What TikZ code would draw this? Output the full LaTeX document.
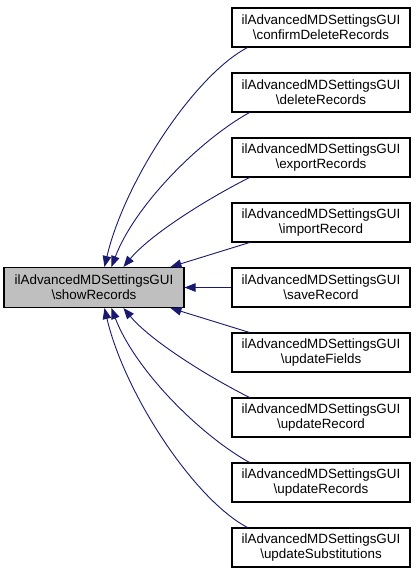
\documentclass[tikz,border=0pt]{standalone}
\usepackage{fontspec}
\setmainfont{Liberation Sans}
\usetikzlibrary{arrows.meta}
\definecolor{edgeblue}{HTML}{191970}
\definecolor{nodegray}{HTML}{BFBFBF}
\tikzset{
  fn/.style={draw=black, line width=1.1pt, fill=white, minimum width=178pt, minimum height=39pt,
    inner sep=0pt, align=center, font=\fontsize{13.4pt}{15pt}\selectfont},
  fnmain/.style={fn, fill=nodegray, minimum width=180pt, minimum height=40pt},
  edge/.style={draw=edgeblue, line width=0.9pt, -{Triangle[length=11pt,width=8.5pt]}}
}
\begin{document}
\begin{tikzpicture}[x=1pt,y=-1pt]
\useasboundingbox (0,0) rectangle (416,575);
\node[fnmain] (l) at (94,287.5) {ilAdvancedMDSettingsGUI\\\textbackslash showRecords};
\node[fn] (r1) at (321,27.5) {ilAdvancedMDSettingsGUI\\\textbackslash confirmDeleteRecords};
\node[fn] (r2) at (321,92.5) {ilAdvancedMDSettingsGUI\\\textbackslash deleteRecords};
\node[fn] (r3) at (321,157.5) {ilAdvancedMDSettingsGUI\\\textbackslash exportRecords};
\node[fn] (r4) at (321,222.5) {ilAdvancedMDSettingsGUI\\\textbackslash importRecord};
\node[fn] (r5) at (321,287.5) {ilAdvancedMDSettingsGUI\\\textbackslash saveRecord};
\node[fn] (r6) at (321,352.5) {ilAdvancedMDSettingsGUI\\\textbackslash updateFields};
\node[fn] (r7) at (321,417.5) {ilAdvancedMDSettingsGUI\\\textbackslash updateRecord};
\node[fn] (r8) at (321,482.5) {ilAdvancedMDSettingsGUI\\\textbackslash updateRecords};
\node[fn] (r9) at (321,547.5) {ilAdvancedMDSettingsGUI\\\textbackslash updateSubstitutions};
% top edges
\draw[edge] ([xshift=16pt]r1.south west) .. controls (195,75) and (125,180) .. ([xshift=101pt]l.north west);
\draw[edge] ([xshift=18pt]r2.south west) .. controls (200,140) and (135,205) .. ([xshift=108pt]l.north west);
\draw[edge] ([xshift=18pt]r3.south west) .. controls (205,200) and (150,235) .. ([xshift=120pt]l.north west);
\draw[edge] ([xshift=18pt]r4.south west) -- ([xshift=167pt]l.north west);
\draw[edge] (r5.west) -- (l.east);
% bottom edges
\draw[edge] ([xshift=18pt]r6.north west) -- ([xshift=167pt]l.south west);
\draw[edge] ([xshift=18pt]r7.north west) .. controls (205,375) and (150,340) .. ([xshift=120pt]l.south west);
\draw[edge] ([xshift=18pt]r8.north west) .. controls (200,435) and (135,370) .. ([xshift=108pt]l.south west);
\draw[edge] ([xshift=16pt]r9.north west) .. controls (195,500) and (125,395) .. ([xshift=101pt]l.south west);
\end{tikzpicture}
\end{document}
